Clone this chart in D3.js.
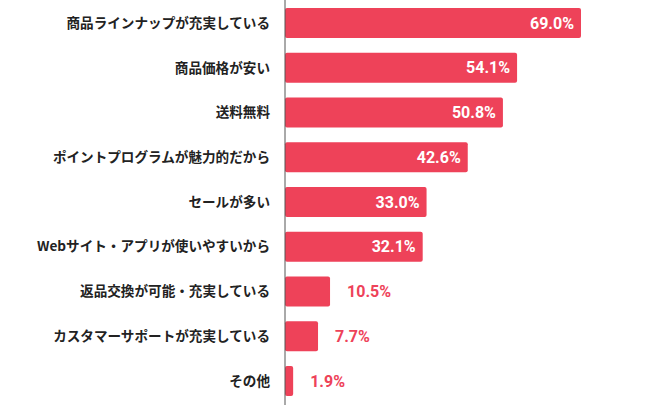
<!DOCTYPE html>
<html><head><meta charset="utf-8">
<script src="https://cdn.jsdelivr.net/npm/d3@7"></script>
<style>body{margin:0;background:#fff}</style>
</head><body>
<div id="chart"></div>
<script>
const categories = ["商品ラインナップが充実している","商品価格が安い","送料無料","ポイントプログラムが魅力的だから","セールが多い","Webサイト・アプリが使いやすいから","返品交換が可能・充実している","カスタマーサポートが充実している","その他"];
const values = [69.0, 54.1, 50.8, 42.6, 33.0, 32.1, 10.5, 7.7, 1.9];

const width = 650, height = 405;
const x0 = 285;
const svg = d3.select("#chart").append("svg").attr("width", width).attr("height", height);

const x = d3.scaleLinear().domain([0, 69]).range([x0, 581]);
const y = d3.scaleBand().domain(categories).range([0.5, 403.5]).paddingInner(0.33).paddingOuter(0.17);

svg.selectAll("rect.bar").data(values).enter().append("rect")
  .attr("x", x0)
  .attr("y", (d, i) => y(categories[i]))
  .attr("width", d => x(d) - x0)
  .attr("height", y.bandwidth())
  .attr("rx", 2)
  .attr("fill", "#EE4259");

svg.append("line").attr("x1", x0).attr("x2", x0).attr("y1", 0).attr("y2", height)
  .attr("stroke", "#555").attr("stroke-width", 1);

svg.selectAll("text.cat").data(categories).enter().append("text")
  .attr("x", 270)
  .attr("y", d => y(d) + y.bandwidth() / 2)
  .attr("dy", "0.35em")
  .attr("text-anchor", "end")
  .style("font-family", "'Noto Sans CJK JP', sans-serif")
  .style("font-weight", "bold")
  .style("font-size", "13.6px")
  .attr("fill", "#222")
  .text(d => d);

svg.selectAll("text.val").data(values).enter().append("text")
  .attr("x", d => d > 20 ? x(d) - 7 : x(d) + 17)
  .attr("y", (d, i) => y(categories[i]) + y.bandwidth() / 2)
  .attr("dy", "0.35em")
  .attr("text-anchor", d => d > 20 ? "end" : "start")
  .style("font-family", "Roboto, sans-serif")
  .style("font-weight", "bold")
  .style("font-size", "16px")
  .attr("fill", d => d > 20 ? "#fff" : "#EE4259")
  .text(d => d.toFixed(1) + "%");
</script>
</body></html>
